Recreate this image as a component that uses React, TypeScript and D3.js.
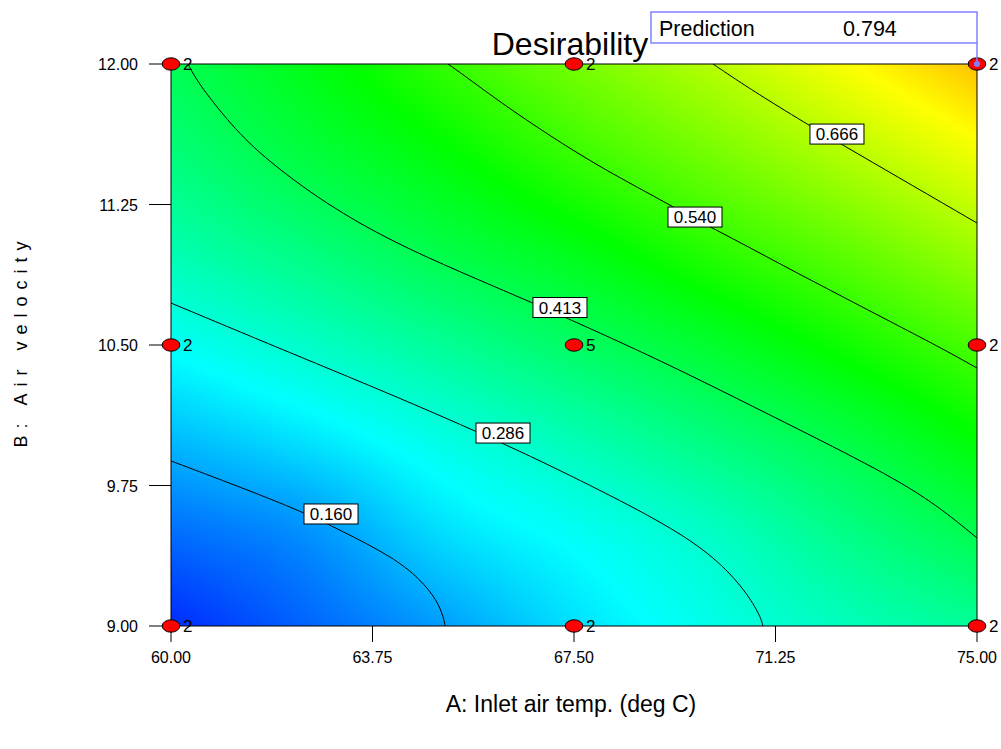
import { useMemo } from 'react';
import * as d3 from 'd3';

const W = 1001;
const H = 749;
const M = { left: 171, right: 977, top: 64, bottom: 626 };
const FONT = '"Liberation Sans", Arial, sans-serif';

const xTicks = [60, 63.75, 67.5, 71.25, 75];
const yTicks = [9, 9.75, 10.5, 11.25, 12];

// desirability at these nodes (rows = B, cols = A)
const gridA = [60, 62.5, 65, 67.5, 70, 72.5, 75];
const gridB = [9, 9.5, 10, 10.5, 11, 11.5, 12];
const gridD = [
  [0.040, 0.095, 0.150, 0.215, 0.265, 0.308, 0.345],
  [0.105, 0.140, 0.212, 0.255, 0.300, 0.360, 0.417],
  [0.180, 0.220, 0.270, 0.318, 0.370, 0.424, 0.488],
  [0.252, 0.297, 0.345, 0.395, 0.446, 0.503, 0.561],
  [0.320, 0.367, 0.420, 0.468, 0.526, 0.580, 0.641],
  [0.370, 0.428, 0.480, 0.541, 0.598, 0.658, 0.718],
  [0.410, 0.470, 0.536, 0.602, 0.664, 0.730, 0.794],
];

// contour lines, [A, B]
const c160: [number, number][] = [
  [60.0, 9.881], [61.284, 9.742], [62.457, 9.609], [63.145, 9.512], [64.131, 9.368],
  [64.634, 9.251], [64.95, 9.139], [65.08, 9.04], [65.099, 9.0],
];
const c286: [number, number][] = [
  [60.0, 10.724], [62.27, 10.452], [64.131, 10.233], [66.179, 9.977], [67.612, 9.779],
  [69.1, 9.561], [70.031, 9.39], [70.645, 9.208], [70.96, 9.06], [71.017, 9.0],
];
const c413: [number, number][] = [
  [60.316, 12.0], [60.5, 11.9], [61.042, 11.701], [61.656, 11.514], [62.903, 11.247], [64.131, 11.05],
  [65.378, 10.89], [66.737, 10.724], [67.239, 10.66], [69.1, 10.42], [70.961, 10.153],
  [72.823, 9.886], [74.069, 9.689], [75.0, 9.47],
];
const c540: [number, number][] = [
  [65.155, 12.0], [65.5, 11.93], [66.123, 11.797], [67.053, 11.616], [67.984, 11.45], [68.914, 11.306],
  [69.752, 11.172], [70.682, 11.034], [71.613, 10.89], [72.543, 10.751], [73.474, 10.612],
  [74.405, 10.473], [75.0, 10.377],
];
const c666: [number, number][] = [
  [70.087, 12.0], [70.5, 11.92], [70.961, 11.834], [71.892, 11.669], [72.823, 11.514], [73.753, 11.359], [75.0, 11.151],
];
const contourLines = [c160, c286, c413, c540, c666];
const contourLabels = ['0.160', '0.286', '0.413', '0.540', '0.666'];
const labelAt: [number, number][] = [
  [62.978, 9.598], [66.179, 10.03], [67.239, 10.7], [69.752, 11.183], [72.394, 11.626],
];

// design points
const designA = [60, 67.5, 75, 60, 67.5, 75, 60, 67.5, 75];
const designB = [9, 9, 9, 10.5, 10.5, 10.5, 12, 12, 12];
const designN = ['2', '2', '2', '2', '5', '2', '2', '2', '2'];

const prediction = { A: 75, B: 12, value: '0.794' };

const x = d3.scaleLinear().domain([60, 75]).range([M.left, M.right]);
const y = d3.scaleLinear().domain([9, 12]).range([M.bottom, M.top]);

const color = d3.scaleLinear<string>()
  .domain([0, 0.245, 0.49, 0.735, 0.98])
  .range(['#0000ff', '#00ffff', '#00ff00', '#ffff00', '#ff0000'])
  .clamp(true);

function cr(p0: number, p1: number, p2: number, p3: number, t: number) {
  return 0.5 * (2 * p1 + (-p0 + p2) * t + (2 * p0 - 5 * p1 + 4 * p2 - p3) * t * t + (-p0 + 3 * p1 - 3 * p2 + p3) * t * t * t);
}

// grid padded with one ghost cell on each side
function padded() {
  const rows = gridD.map(r => [2 * r[0] - r[1], ...r, 2 * r[r.length - 1] - r[r.length - 2]]);
  const n = rows.length;
  const first = rows[0].map((v, i) => 2 * v - rows[1][i]);
  const last = rows[n - 1].map((v, i) => 2 * v - rows[n - 2][i]);
  return [first, ...rows, last];
}

function surface(P: number[][], a: number, b: number) {
  const u = (a - gridA[0]) / (gridA[1] - gridA[0]);
  const v = (b - gridB[0]) / (gridB[1] - gridB[0]);
  const i = Math.max(0, Math.min(gridA.length - 2, Math.floor(u)));
  const j = Math.max(0, Math.min(gridB.length - 2, Math.floor(v)));
  const fu = u - i, fv = v - j;
  const col = [0, 1, 2, 3].map(k => {
    const r = P[j + k];
    return cr(r[i], r[i + 1], r[i + 2], r[i + 3], fu);
  });
  return cr(col[0], col[1], col[2], col[3], fv);
}

function useSurfaceImage() {
  return useMemo(() => {
    const w = M.right - M.left, h = M.bottom - M.top;
    const canvas = document.createElement('canvas');
    canvas.width = w; canvas.height = h;
    const ctx = canvas.getContext('2d');
    if (!ctx) return '';
    const img = ctx.createImageData(w, h);
    const P = padded();
    for (let py = 0; py < h; py++) {
      const b = y.invert(M.top + py + 0.5);
      for (let px = 0; px < w; px++) {
        const a = x.invert(M.left + px + 0.5);
        const c = d3.rgb(color(surface(P, a, b)));
        const k = (py * w + px) * 4;
        img.data[k] = c.r; img.data[k + 1] = c.g; img.data[k + 2] = c.b; img.data[k + 3] = 255;
      }
    }
    ctx.putImageData(img, 0, 0);
    return canvas.toDataURL();
  }, []);
}

export default function App() {
  const url = useSurfaceImage();
  const line = d3.line<[number, number]>().x(d => x(d[0])).y(d => y(d[1])).curve(d3.curveBasis);

  return (
    <div style={{ position: 'absolute', left: 0, top: 0, width: W, height: H, background: '#fff' }}>
      <svg width={W} height={H} style={{ display: 'block' }} fontFamily={FONT}>
        <defs>
          <clipPath id="plot">
            <rect x={M.left} y={M.top} width={M.right - M.left} height={M.bottom - M.top} />
          </clipPath>
        </defs>

        {url && (
          <image href={url} x={M.left} y={M.top} width={M.right - M.left} height={M.bottom - M.top} preserveAspectRatio="none" />
        )}

        <g clipPath="url(#plot)">
          {contourLines.map((pts, i) => (
            <path key={i} d={line(pts) || ''} fill="none" stroke="#000" strokeWidth={1} />
          ))}
        </g>

        <rect x={M.left} y={M.top} width={M.right - M.left} height={M.bottom - M.top} fill="none" stroke="#000" strokeWidth={1} />

        {contourLabels.map((t, i) => {
          const cx = x(labelAt[i][0]), cy = y(labelAt[i][1]);
          return (
            <g key={t}>
              <rect x={cx - 27} y={cy - 10} width={54} height={20} fill="#fff" stroke="#000" strokeWidth={1} />
              <text x={cx} y={cy + 6} textAnchor="middle" fontSize={17} fill="#000">{t}</text>
            </g>
          );
        })}

        {/* axes */}
        {xTicks.map(t => (
          <g key={'x' + t}>
            <line x1={x(t)} x2={x(t)} y1={M.bottom} y2={M.bottom + 16} stroke="#000" />
            <text x={x(t)} y={M.bottom + 37} textAnchor="middle" fontSize={16} fill="#000">{t.toFixed(2)}</text>
          </g>
        ))}
        {yTicks.map(t => (
          <g key={'y' + t}>
            <line x1={M.left - 22} x2={M.left} y1={y(t)} y2={y(t)} stroke="#000" />
            <text x={M.left - 33} y={y(t) + 6} textAnchor="end" fontSize={16} fill="#000">{t.toFixed(2)}</text>
          </g>
        ))}

        {/* design points */}
        {designA.map((a, i) => (
          <g key={'p' + i}>
            <ellipse cx={x(a)} cy={y(designB[i])} rx={8.8} ry={6.2} fill="#ff0000" stroke="#000" strokeWidth={1} />
            <text x={x(a) + 12} y={y(designB[i]) + 6} fontSize={17} fill="#000">{designN[i]}</text>
          </g>
        ))}

        <text x={570} y={55} textAnchor="middle" fontSize={32} fill="#000">Desirability</text>

        {/* prediction flag */}
        <rect x={651} y={12} width={x(prediction.A) - 651} height={31} fill="#fff" stroke="#8080ff" strokeWidth={1.5} />
        <line x1={x(prediction.A)} x2={x(prediction.A)} y1={43} y2={y(prediction.B)} stroke="#8080ff" strokeWidth={1.5} />
        <circle cx={x(prediction.A)} cy={y(prediction.B)} r={3} fill="#8080ff" />
        <text x={659} y={36} fontSize={21.5} fill="#000">Prediction</text>
        <text x={843} y={36} fontSize={21.5} fill="#000">{prediction.value}</text>

        <text x={571} y={712} textAnchor="middle" fontSize={23} fill="#000">A: Inlet air temp. (deg C)</text>
        <text transform={`translate(27,${(M.top + M.bottom) / 2 - 4}) rotate(-90)`} textAnchor="middle" fontSize={18} letterSpacing={7} fill="#000">B: Air velocity</text>
      </svg>
    </div>
  );
}
